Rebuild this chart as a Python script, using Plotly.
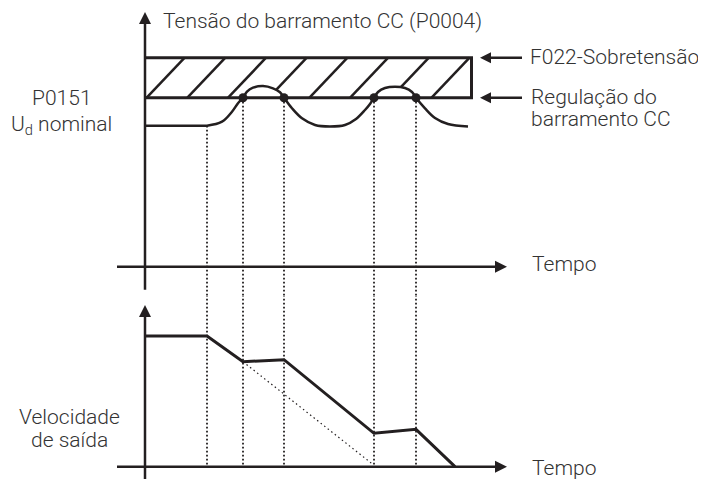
import plotly.graph_objects as go

# Time instants where the DC bus regulation starts / releases (x units)
t_events = [62, 98, 139, 229, 271]

# DC bus voltage levels
v_nominal = 141
v_regulation = 169
v_overvoltage = 209
box_end = 326.5

# DC bus voltage (P0004) during deceleration
bus_t = [0, 55, 62, 77, 87, 93, 98, 102, 108, 118, 128, 135, 139, 147, 157, 170,
         185, 200, 211, 220, 225, 229, 233, 240, 250, 260, 267, 271, 280, 290, 303, 323]
bus_v = [141, 141, 141, 145, 155, 163.4, 169, 175, 179, 180.7, 178.4, 174.4, 169, 158.4, 148.4, 141.7,
         140.2, 141.7, 147.7, 156.7, 162.7, 169, 174.7, 178.7, 180, 178.7, 174.7, 169, 158.4, 148.7, 142.7, 140.2]

# Output speed
speed_t = [0, 62, 98, 139, 229, 271, 310]
speed_v = [130.7, 130.7, 105, 107, 33.4, 37.4, 0]

# Deceleration ramp without regulation
ramp_t = [98, 227]
ramp_v = [105, 3]

INK = "#231f20"
TXT = "#333333"
FONT = "Roboto, Liberation Sans, Arial, sans-serif"
GUIDE = dict(color=INK, width=1.8, dash="1.8px,2.2px")

fig = go.Figure()


def add(tr, lower=False):
    if lower:
        tr.update(yaxis="y2")
    fig.add_trace(tr)


# hatched overvoltage band
hx, hy = [], []
for k in range(8):
    x0 = 1.7 + 40.7 * k
    hx += [x0, x0 + 38, None]
    hy += [v_regulation, v_overvoltage, None]
add(go.Scatter(x=hx, y=hy, mode="lines", line=dict(color=INK, width=2.5), hoverinfo="skip"))

# white area under the bumps (hides the hatch)
for a, b in [(t_events[1], t_events[2]), (t_events[3], t_events[4])]:
    pts = [(t, v) for t, v in zip(bus_t, bus_v) if a <= t <= b]
    add(go.Scatter(x=[p[0] for p in pts], y=[p[1] for p in pts], mode="lines",
                   line=dict(width=0, shape="spline"), fill="toself", fillcolor="white",
                   hoverinfo="skip"))

# band outline
add(go.Scatter(x=[0, box_end, box_end, 0], y=[v_overvoltage, v_overvoltage, v_regulation, v_regulation],
               mode="lines", line=dict(color=INK, width=3), hoverinfo="skip"))

# dotted guide lines
for i, t in enumerate(t_events):
    top = v_nominal if i == 0 else v_regulation
    add(go.Scatter(x=[t, t], y=[top, -60], mode="lines", line=GUIDE, hoverinfo="skip"))
    add(go.Scatter(x=[t, t], y=[220, 0], mode="lines", line=GUIDE, hoverinfo="skip"), lower=True)

# axes
add(go.Scatter(x=[0, 0], y=[-23, 250], mode="lines", line=dict(color=INK, width=2.5), hoverinfo="skip"))
add(go.Scatter(x=[-28, 357], y=[0, 0], mode="lines", line=dict(color=INK, width=2.5), hoverinfo="skip"))
add(go.Scatter(x=[0, 362], y=[254.7, 0], mode="markers",
               marker=dict(symbol=["arrow-up", "arrow-right"], size=12, color=INK), hoverinfo="skip"))
add(go.Scatter(x=[0, 0], y=[-20, 157], mode="lines", line=dict(color=INK, width=2.5), hoverinfo="skip"), lower=True)
add(go.Scatter(x=[-28, 357], y=[0, 0], mode="lines", line=dict(color=INK, width=2.5), hoverinfo="skip"), lower=True)
add(go.Scatter(x=[0, 362], y=[161.7, 0], mode="markers",
               marker=dict(symbol=["arrow-up", "arrow-right"], size=12, color=INK), hoverinfo="skip"), lower=True)

# label arrows
for lvl in [v_overvoltage, v_regulation]:
    add(go.Scatter(x=[339, 377], y=[lvl, lvl], mode="lines", line=dict(color=INK, width=2.5), hoverinfo="skip"))
    add(go.Scatter(x=[335], y=[lvl], mode="markers",
                   marker=dict(symbol="arrow-left", size=11, color=INK), hoverinfo="skip"))

# DC bus voltage curve
add(go.Scatter(x=bus_t, y=bus_v, mode="lines", line=dict(color=INK, width=2.5, shape="spline"),
               hoverinfo="skip"))
add(go.Scatter(x=t_events[1:], y=[v_regulation] * 4, mode="markers",
               marker=dict(size=9, color=INK), hoverinfo="skip"))

# speed
add(go.Scatter(x=ramp_t, y=ramp_v, mode="lines", line=dict(color=INK, width=1.2, dash="1.5px,3px"),
               hoverinfo="skip"), lower=True)
add(go.Scatter(x=speed_t, y=speed_v, mode="lines", line=dict(color=INK, width=3), hoverinfo="skip"),
    lower=True)

labels = [
    ("Tensão do barramento CC (P0004)", 16, 245.5, "left", "y"),
    ("F022-Sobretensão", 383, v_overvoltage + 1, "left", "y"),
    ("Regulação do", 384, 170, "left", "y"),
    ("barramento CC", 384, 147.5, "left", "y"),
    ("Tempo", 385, 2.7, "left", "y"),
    ("P0151", -83, 168.7, "center", "y"),
    ("U<sub>d</sub> nominal", -84, 141.7, "center", "y"),
    ("Velocidade", -76, 49.5, "center", "y2"),
    ("de saída", -76, 27.2, "center", "y2"),
    ("Tempo", 385, -1.3, "left", "y2"),
]
for text, x, y, xa, yr in labels:
    fig.add_annotation(text=text, x=x, y=y, xref="x", yref=yr, xanchor=xa, yanchor="middle",
                       showarrow=False, font=dict(family=FONT, size=21, color=TXT, weight=300))

# the page body adds an 8 px margin, so the figure is 8 px smaller each way
split = (471 - 288) / 471
fig.update_layout(
    width=698, height=471,
    margin=dict(l=0, r=0, t=0, b=0),
    paper_bgcolor="white", plot_bgcolor="white",
    showlegend=False,
    xaxis=dict(range=[-137, 561], visible=False, fixedrange=True),
    yaxis=dict(domain=[split, 1], range=[266.7 - 296, 266.7 - 8], visible=False, fixedrange=True),
    yaxis2=dict(domain=[0, split], range=[466.7 - 479, 466.7 - 296], anchor="x", visible=False,
                fixedrange=True),
)

fig.write_html("out.html")
